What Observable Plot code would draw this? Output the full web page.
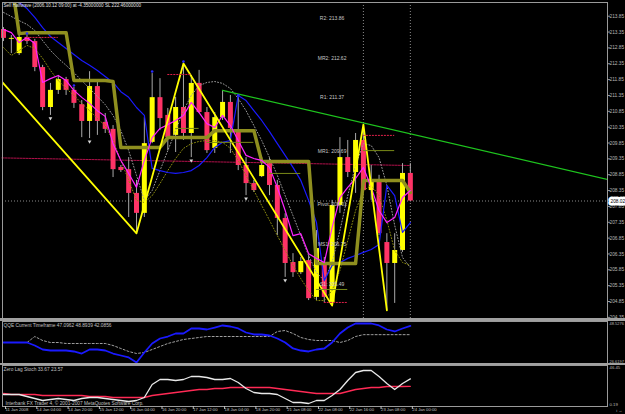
<!DOCTYPE html>
<html><head><meta charset="utf-8">
<script src="https://cdn.jsdelivr.net/npm/d3@7"></script>
<script src="https://cdn.jsdelivr.net/npm/@observablehq/plot@0.6"></script>
<style>
html,body{margin:0;padding:0;background:#000;}
#wrap{position:relative;width:625px;height:414px;background:#000;overflow:hidden;}
#wrap svg{display:block;overflow:visible;}
.sep{position:absolute;left:0;width:625px;background:#a0a0a0;}
</style></head><body><div id="wrap"></div>
<script>
// ---------- data ----------
const headline = "Sell Halfwave (2006.10.12 09:00) at -4.35000000 SL 222.46000000";
const opens  = [213.43,213.12,212.67,213.18,213.05,212.23,210.97,211.51,211.85,211.51, 211.06,210.53,211.63,210.50,210.28,209.08,209.01,208.26,207.63,209.87, 211.28,210.72,210.09,210.97,210.15,211.73,210.81,209.68,210.65,211.13, 210.24,209.14,208.57,208.79,209.20,208.51,207.47,206.08,205.76,206.14, 204.98,205.99,204.82,207.88,209.39,208.92,209.93,208.35,208.67,206.71, 206.05,206.46,208.89];
const highs  = [213.49,213.24,213.30,213.24,213.12,212.30,211.73,211.98,211.92,211.60, 211.19,212.10,211.82,210.78,210.40,209.14,209.39,208.67,210.65,212.04, 211.88,210.94,211.29,212.36,211.98,212.14,210.97,210.81,211.51,211.35, 211.29,209.39,208.67,209.39,209.36,208.67,207.62,206.36,206.24,206.30, 207.09,206.24,208.04,210.02,209.93,210.15,210.43,209.14,208.83,206.99, 206.99,209.20,209.20];
const lows   = [213.05,212.67,212.61,212.96,212.10,210.87,210.72,211.38,211.35,210.94, 210.02,209.99,210.09,210.15,208.76,208.92,207.50,207.00,207.50,209.83, 210.24,209.61,209.55,209.93,209.39,210.78,209.52,209.52,210.56,209.52, 208.98,208.19,208.29,208.76,208.19,206.93,205.61,205.61,205.70,204.88, 204.88,204.82,204.72,207.63,208.76,208.26,208.26,208.04,206.93,204.57, 204.79,206.40,208.00];
const closes = [213.15,213.15,213.18,213.05,212.23,210.97,211.51,211.85,211.51,211.10, 210.53,211.63,210.53,210.28,209.01,208.98,208.26,207.63,209.83,211.28, 210.62,210.02,210.97,210.15,211.73,210.81,209.61,210.65,211.13,210.31, 209.14,208.57,208.35,209.14,208.51,207.47,206.05,205.76,206.11,204.94, 206.52,204.98,207.88,209.39,208.92,209.93,208.35,208.67,206.99,206.05, 206.46,208.89,208.02];

const blueMA = [null,214.55,214.28,214.09,213.81,213.49,213.21,213.02,212.83,212.64, 212.45,212.30,212.14,211.95,211.76,211.47,211.29,210.97,210.72,209.05, 208.98,208.92,208.89,208.92,208.98,209.14,209.39,209.71,209.87,209.93, 211.35,211.19,210.87,210.56,210.21,209.83,209.46,209.08,208.67,208.04, 207.34,205.51,205.99,206.08,206.21,206.30,206.40,206.49,206.65,208.51, 208.19,207.03,207.34];
const magentaMA = [213.43,213.33,213.02,213.18,212.99,211.76,211.88,211.98,211.82,211.51, 211.29,211.10,210.87,210.69,209.83,209.30,208.89,208.45,209.30,210.02, 210.31,210.43,210.56,210.72,211.13,210.81,210.46,210.34,210.72,210.40, 209.93,209.46,209.36,209.30,209.08,208.45,207.72,206.93,206.99,206.36, 206.21,206.08,207.18,208.13,208.45,208.73,209.08,208.45,207.72,207.34, 207.50,208.13,208.35];
const oliveStep = [null,215.00,213.30,213.33,213.33,213.33,213.33,213.33,213.33,211.82, 211.82,211.82,211.82,211.82,211.79,209.71,209.71,209.71,209.71,209.71, 209.71,210.02,210.02,210.02,210.02,210.02,210.02,210.24,210.24,210.24, 210.24,210.24,210.24,209.27,209.27,209.27,209.27,209.27,209.27,209.27, 206.05,206.05,206.05,206.05,206.05,206.05,208.67,208.67,208.67,208.67, 208.67,208.67,208.29];
const grayDotted = [213.97,213.84,213.71,213.59,213.40,213.08,212.77,212.52,212.30,212.07, 211.82,211.57,211.32,211.06,210.72,210.24,209.61,208.83,208.04,208.35, 208.98,209.61,210.24,210.87,211.35,211.66,211.76,211.79,211.73,211.57, 211.25,210.87,210.40,209.93,209.39,208.83,208.19,207.56,206.93,206.30, 205.76,205.51,206.08,207.09,208.19,209.14,209.83,209.77,209.39,208.51, 207.25,206.24,205.92];
const oliveDotted = [212.86,212.61,212.77,212.93,212.83,212.52,212.14,211.82,211.57,211.35, 211.10,210.87,210.62,210.40,209.93,209.30,208.67,208.04,207.97,208.19, 208.57,208.98,209.36,209.68,209.83,209.90,209.93,209.93,209.87,209.68, 209.30,208.83,208.35,207.88,207.41,206.93,206.46,205.99,205.57,205.20, 204.88,204.88,205.20,205.83,206.77,207.72,208.35,208.51,208.19,207.41, 206.46,206.08,205.99];

const zigzagBars   = [-1, 17, 23, 42, 46, 49];
const zigzagPrices = [212.00, 207.00, 212.36, 204.72, 210.43, 204.57];
const trendBars   = [28, 77.2];
const trendPrices = [211.51, 208.70];
const levelBars   = [-0.2, 52];
const levelPrices = [209.38, 209.14];

const pivotNames  = ["R2","MR2","R1","MR1","Pivot","MS1","S1"];
const pivotValues = [213.86,212.62,211.37,209.69,208.01,206.75,205.49];
const pivotLabelBar = 42;

const redSegStart = [3, 21, 46, 41], redSegEnd = [7, 24, 50, 44], redSegPrice = [213.18, 212.01, 210.09, 204.82];
const oliveSegStart = [22, 26, 34, 46, 40], oliveSegEnd = [25, 32, 38, 50, 44], oliveSegPrice = [210.31, 209.87, 208.89, 209.61, 205.23];
const upFractalBars = [3, 9, 19, 23, 30];
const downFractalBars = [6, 11, 24, 31, 36];
const dayBreakBars = [46, 52];
const bidPrice = 208.02;

const priceTicks = [213.85,213.35,212.85,212.35,211.85,211.35,210.85,210.35,209.85,209.35,208.85,208.35,207.85,207.35,206.85,206.35,205.85,205.35,204.85,204.35];

const qqeLabel = "QQE Current Timeframe 47.0962 48.8939 42.0856";
const qqeMax = 48.5276, qqeMin = 26.6197;
const qqeMain = [37.57,37.57,37.57,37.57,35.84,33.54,32.96,32.96,32.96,32.39, 31.23,33.54,33.54,32.96,31.23,30.08,28.93,26.04,31.81,37.00, 39.88,41.03,42.77,42.77,45.65,45.65,45.07,46.22,47.38,46.80, 45.65,43.34,42.19,42.19,41.61,39.88,37.57,34.12,32.96,32.39, 33.54,34.12,37.57,42.77,46.22,48.53,48.53,48.53,47.38,45.07, 43.92,45.65,47.10];
const qqeSignal = [37.57,37.57,37.57,37.57,41.03,38.73,37.57,37.57,37.00,37.00, 37.00,37.00,37.00,37.00,35.84,34.12,32.39,31.23,31.81,33.54, 35.27,37.00,38.15,39.30,39.88,40.46,41.03,41.03,41.03,41.03, 41.03,41.03,41.03,41.03,41.03,43.92,44.49,42.77,40.46,39.30, 38.73,38.73,38.73,37.57,38.73,41.03,42.09,42.09,42.09,42.09, 42.09,42.09,42.09];

const stochLabel = "Zero Lag Stoch 33.67 23.57";
const footer = "Interbank FX Trader 4, \u00A9 2001-2007 MetaQuotes Software Corp.";
const stochMax = 46.45, stochMin = 0.19;
const stochMain = [12.44,12.44,12.44,9.71,6.99,4.27,5.63,6.99,5.63,4.27, 6.99,8.35,8.35,6.99,5.63,4.27,2.91,4.27,8.35,26.04, 32.84,32.84,31.48,32.84,36.93,36.93,35.57,32.84,32.84,34.21, 28.76,20.60,15.16,13.80,13.80,12.44,6.99,1.55,1.55,0.19, 4.27,4.27,11.07,19.24,31.48,42.37,45.09,45.09,36.93,27.40, 19.24,27.40,33.67];
const stochSignal = [13.80,12.44,12.44,12.44,12.44,11.07,11.07,11.07,11.07,11.07, 11.07,9.71,9.71,9.71,8.35,8.35,8.35,8.35,8.35,11.07, 12.44,13.80,15.16,16.52,17.88,19.24,19.24,20.60,20.60,21.96, 21.96,21.96,21.96,21.96,21.96,20.60,19.24,17.88,16.52,15.16, 13.80,13.80,13.80,13.80,16.52,19.24,20.60,21.96,21.96,23.32, 23.32,23.32,23.57];

const timeLabelBars = [0,4,8,12,16,20,24,28,32,36,40,44,48,52];
const timeLabels = ["11 Jan 2008","14 Jan 04:00","14 Jan 20:00","15 Jan 12:00","16 Jan 04:00","16 Jan 20:00","17 Jan 12:00","18 Jan 04:00","18 Jan 20:00","21 Jan 08:00","22 Jan 08:00","22 Jan 16:00","23 Jan 08:00","24 Jan 00:00"];

// ---------- build ----------
const FONT = "'Liberation Sans', Arial, sans-serif";
const xDomain = [-0.13, 77.2];
const idx = d3.range(closes.length);
const candles = idx.map(i => ({i, o: opens[i], h: highs[i], l: lows[i], c: closes[i]}));
const bull = candles.filter(d => d.c >= d.o), bear = candles.filter(d => d.c < d.o);
const series = arr => idx.map(i => ({i, v: arr[i]}));
const zigzag = zigzagBars.map((b, k) => ({i: b, p: zigzagPrices[k]}));
const trend = trendBars.map((b, k) => ({i: b, p: trendPrices[k]}));
const level = levelBars.map((b, k) => ({i: b, p: levelPrices[k]}));
const pivots = pivotNames.map((n, k) => ({name: n, p: pivotValues[k]}));
const redSegs = redSegStart.map((s, k) => ({a: s, b: redSegEnd[k], p: redSegPrice[k]}));
const oliveSegs = oliveSegStart.map((s, k) => ({a: s, b: oliveSegEnd[k], p: oliveSegPrice[k]}));
const style = {background: "transparent", color: "#c0c0c0", fontSize: "5px", fontFamily: FONT};
// edge labels of a sub-panel's right scale, kept inside their panel
const edgeLabel = (value, digits, anchor, fs) => Plot.text([value], {
  frameAnchor: anchor === "top" ? "top-right" : "bottom-right", lineAnchor: anchor,
  textAnchor: "start", dx: 2, dy: anchor === "top" ? 0.5 : -0.5,
  text: d => d.toFixed(digits), fill: "#b8b8b8", fontSize: fs
});

const main = Plot.plot({
  width: 625, height: 320, marginLeft: 2, marginRight: 18, marginTop: 2, marginBottom: 2,
  style,
  x: {type: "linear", domain: xDomain, axis: null},
  y: {domain: [204.314, 214.282]},
  marks: [
    Plot.line(level, {x: "i", y: "p", stroke: "#b0104a", strokeWidth: 1, strokeDasharray: "2,1"}),
    Plot.ruleY([bidPrice], {stroke: "#8a8a8a", strokeDasharray: "1,2"}),
    Plot.ruleX(dayBreakBars, {stroke: "#8a8a8a", strokeDasharray: "1,2"}),
    Plot.ruleX(candles, {x: "i", y1: "l", y2: "h", stroke: "#a8a8a8", strokeWidth: 1}),
    Plot.ruleX(bull, {x: "i", y1: "o", y2: "c", stroke: "#ffff00", strokeWidth: 5}),
    Plot.ruleX(bear, {x: "i", y1: "o", y2: "c", stroke: "#ff3366", strokeWidth: 5}),
    Plot.line(series(grayDotted), {x: "i", y: "v", stroke: "#9a9a9a", strokeWidth: 1, strokeDasharray: "1,2", clip: true}),
    Plot.line(series(oliveDotted), {x: "i", y: "v", stroke: "#8c8c10", strokeWidth: 1, strokeDasharray: "1,2", clip: true}),
    Plot.line(series(blueMA), {x: "i", y: "v", stroke: "#1a1aff", strokeWidth: 1.2, clip: true}),
    Plot.line(series(oliveStep), {x: "i", y: "v", stroke: "#8f8f1f", strokeWidth: 3.5, clip: true}),
    Plot.line(series(magentaMA), {x: "i", y: "v", stroke: "#ff22ff", strokeWidth: 1.2, clip: true}),
    Plot.line(zigzag, {x: "i", y: "p", stroke: "#ffff00", strokeWidth: 1.8, clip: true}),
    Plot.line(trend, {x: "i", y: "p", stroke: "#1ec41e", strokeWidth: 1.2, clip: true}),
    Plot.ruleY(redSegs, {x1: "a", x2: "b", y: "p", stroke: "#e0204a", strokeDasharray: "2,1"}),
    Plot.ruleY(oliveSegs, {x1: "a", x2: "b", y: "p", stroke: "#7a8a18"}),
    Plot.dot(upFractalBars, {x: d => d, y: d => highs[d], r: 1.3, fill: "#2a2aff", stroke: null, dy: -2}),
    Plot.dot(downFractalBars, {x: d => d, y: d => lows[d], r: 1.4, symbol: "triangle", rotate: 180, fill: "#d8d8d8", stroke: null, dy: 3}),
    Plot.text(pivots, {x: () => pivotLabelBar, y: "p", text: d => `${d.name}: ${d.p.toFixed(2)}`, fill: "#c8c8c8", dy: 3, fontSize: 5}),
    Plot.text([headline], {frameAnchor: "top-left", textAnchor: "start", lineAnchor: "top", dx: 1, dy: 1, text: d => d, fill: "#e0e0e0", fontSize: 4.6}),
    Plot.frame({stroke: "#9a9a9a"}),
    Plot.axisY({anchor: "right", ticks: priceTicks, tickFormat: d => d.toFixed(2), tickSize: 2, tickPadding: 0, stroke: "#9a9a9a", fill: "#b8b8b8", fontSize: 4.8}),
    Plot.text([bidPrice], {y: d => d, frameAnchor: "right", textAnchor: "start", dx: 3, text: d => d.toFixed(2), fill: "#000", stroke: "#ffffff", strokeWidth: 5, fontSize: 4.8})
  ]
});

const qqe = Plot.plot({
  width: 625, height: 45, marginLeft: 2, marginRight: 18, marginTop: 1, marginBottom: 2,
  style,
  x: {type: "linear", domain: xDomain, axis: null},
  y: {domain: [26.62, 48.53], range: [41, 3], axis: null},
  marks: [
    Plot.line(series(qqeSignal), {x: "i", y: "v", stroke: "#a0a0a0", strokeWidth: 1, strokeDasharray: "2,2"}),
    Plot.line(series(qqeMain), {x: "i", y: "v", stroke: "#1a1aff", strokeWidth: 1.8}),
    Plot.text([qqeLabel], {frameAnchor: "top-left", textAnchor: "start", lineAnchor: "top", dx: 1, dy: 2, text: d => d, fill: "#c0c0c0", fontSize: 4.8}),
    Plot.frame({stroke: "#9a9a9a"}),
    edgeLabel(qqeMax, 4, "top", 4),
    edgeLabel(qqeMin, 4, "bottom", 4)
  ]
});

const stoch = Plot.plot({
  width: 625, height: 49, marginLeft: 2, marginRight: 18, marginTop: 0, marginBottom: 8,
  style,
  x: {type: "linear", domain: xDomain},
  y: {domain: [0.19, 46.45], range: [38, 4], axis: null},
  marks: [
    Plot.line(series(stochSignal), {x: "i", y: "v", stroke: "#ff2a55", strokeWidth: 1.3}),
    Plot.line(series(stochMain), {x: "i", y: "v", stroke: "#e8e8e8", strokeWidth: 1.3}),
    Plot.text([stochLabel], {frameAnchor: "top-left", textAnchor: "start", lineAnchor: "top", dx: 1, dy: 2, text: d => d, fill: "#c0c0c0", fontSize: 4.8}),
    Plot.text([footer], {frameAnchor: "bottom-left", textAnchor: "start", lineAnchor: "bottom", dx: 3, dy: -2, text: d => d, fill: "#c0c0c0", fontSize: 4.8}),
    Plot.frame({stroke: "#9a9a9a"}),
    edgeLabel(stochMax, 2, "top", 4.3),
    edgeLabel(stochMin, 2, "bottom", 4.3),
    Plot.axisX({anchor: "bottom", ticks: timeLabelBars, tickFormat: d => timeLabels[timeLabelBars.indexOf(d)], tickSize: 3, tickPadding: -1.5, textAnchor: "start", dx: 2, stroke: "#c0c0c0", fill: "#c0c0c0", fontSize: 4.2})
  ]
});

const wrap = document.getElementById("wrap");
function place(el, top) {
  const d = document.createElement("div");
  d.style.cssText = `position:absolute;left:0;top:${top}px;`;
  d.appendChild(el); wrap.appendChild(d);
}
place(main, 0);
place(qqe, 320);
place(stoch, 365);
for (const [t, h] of [[318, 3], [363, 2]]) {
  const s = document.createElement("div"); s.className = "sep";
  s.style.top = t + "px"; s.style.height = h + "px"; wrap.appendChild(s);
}
</script>
</body></html>
